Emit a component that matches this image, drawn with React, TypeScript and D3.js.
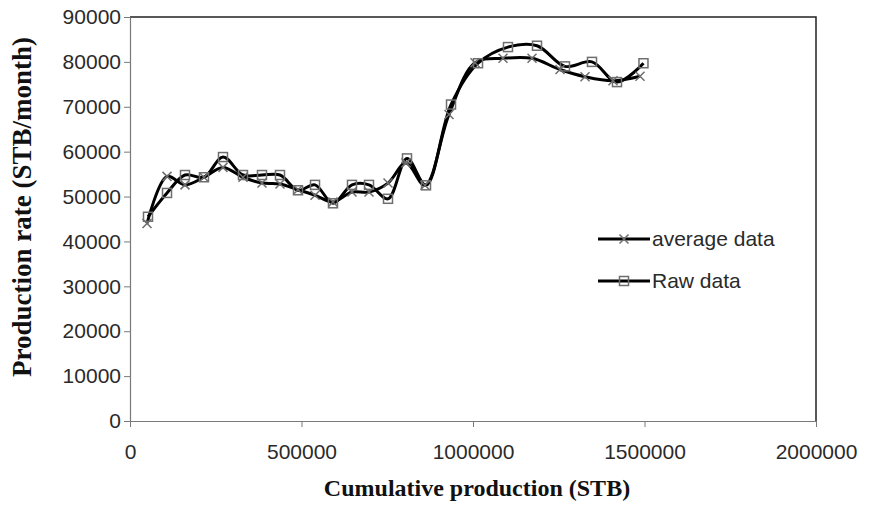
import React, { useRef, useEffect } from 'react';
import * as d3 from 'd3';

// cumulative production (STB) and rate (STB/month)
const rawX = [52500, 107900, 160300, 215700, 271100, 329400, 384800, 437300, 489800, 539400, 591800, 647200, 696800, 752200, 807600, 863000, 935900, 1014600, 1102000, 1186600, 1268200, 1346900, 1419800, 1497000];
const rawY = [45500, 50800, 54800, 54300, 58800, 54800, 54800, 54800, 51400, 52600, 48500, 52600, 52600, 49500, 58500, 52500, 70500, 79700, 83300, 83600, 79000, 80000, 75500, 79700];
const avgX = [49600, 107900, 160300, 215700, 271100, 329400, 384800, 437300, 489800, 539400, 591800, 647200, 696800, 752200, 804700, 860100, 930100, 1005900, 1087500, 1172100, 1253700, 1326600, 1408200, 1486900];
const avgY = [44000, 54500, 52600, 54300, 56500, 54300, 53000, 52800, 51500, 50300, 48800, 51000, 51000, 53000, 57500, 52500, 68300, 79800, 80800, 80800, 78300, 76700, 75800, 76800];
const xTicks = [0, 500000, 1000000, 1500000, 2000000];
const yTicks = [0, 10000, 20000, 30000, 40000, 50000, 60000, 70000, 80000, 90000];

const W = 870;
const H = 506;
const margin = { left: 130, right: 54, top: 17, bottom: 85 };

const App: React.FC = () => {
  const svgRef = useRef<SVGSVGElement>(null);

  useEffect(() => {
    if (!svgRef.current) return;
    const svg = d3.select(svgRef.current);
    svg.selectAll('*').remove();

    const x = d3.scaleLinear().domain([0, 2000000]).range([margin.left, W - margin.right]);
    const y = d3.scaleLinear().domain([0, 90000]).range([H - margin.bottom, margin.top]);
    const tickFont = '"Liberation Sans", Arial, sans-serif';
    const axisColor = '#7a7a7a';

    // plot box top/right
    svg.append('path')
      .attr('d', `M${x(0)},${y(90000)}H${x(2000000)}V${y(0)}`)
      .attr('fill', 'none').attr('stroke', '#222').attr('stroke-width', 1.5);

    const xAxis = svg.append('g')
      .attr('transform', `translate(0,${y(0)})`)
      .call(d3.axisBottom(x).tickValues(xTicks).tickFormat(d3.format('d')).tickSize(6).tickSizeOuter(0));
    xAxis.select('.domain').attr('stroke', axisColor).attr('stroke-width', 1.2);
    xAxis.selectAll('.tick line').attr('stroke', axisColor);
    xAxis.selectAll('.tick text')
      .attr('font-family', tickFont).attr('font-size', 21).attr('fill', '#2a2a2a').attr('dy', '1.4em');

    const yAxis = svg.append('g')
      .attr('transform', `translate(${x(0)},0)`)
      .call(d3.axisLeft(y).tickValues(yTicks).tickFormat(d3.format('d')).tickSize(6).tickSizeOuter(0));
    yAxis.select('.domain').attr('stroke', axisColor).attr('stroke-width', 1.2);
    yAxis.selectAll('.tick line').attr('stroke', axisColor);
    yAxis.selectAll('.tick text')
      .attr('font-family', tickFont).attr('font-size', 21).attr('fill', '#2a2a2a').attr('x', -9);

    const line = d3.line<[number, number]>()
      .x(d => x(d[0]))
      .y(d => y(d[1]))
      .curve(d3.curveCatmullRom);

    const avgPts = avgX.map((v, i) => [v, avgY[i]] as [number, number]);
    const rawPts = rawX.map((v, i) => [v, rawY[i]] as [number, number]);

    const markColor = '#6e6e6e';
    const cross = (g: d3.Selection<SVGGElement, unknown, null, undefined>, cx: number, cy: number) => {
      g.append('path')
        .attr('d', `M${cx - 4.5},${cy - 4.5}L${cx + 4.5},${cy + 4.5}M${cx - 4.5},${cy + 4.5}L${cx + 4.5},${cy - 4.5}`)
        .attr('stroke', markColor).attr('stroke-width', 1.5).attr('fill', 'none');
    };
    const square = (g: d3.Selection<SVGGElement, unknown, null, undefined>, cx: number, cy: number) => {
      g.append('rect')
        .attr('x', cx - 4.5).attr('y', cy - 4.5).attr('width', 9).attr('height', 9)
        .attr('stroke', markColor).attr('stroke-width', 1.5).attr('fill', 'none');
    };

    svg.append('path').attr('d', line(avgPts)!).attr('fill', 'none').attr('stroke', '#000').attr('stroke-width', 3);
    svg.append('path').attr('d', line(rawPts)!).attr('fill', 'none').attr('stroke', '#000').attr('stroke-width', 3);

    const marks = svg.append('g');
    avgPts.forEach(d => cross(marks, x(d[0]), y(d[1])));
    rawPts.forEach(d => square(marks, x(d[0]), y(d[1])));

    // legend
    const legend = svg.append('g');
    const items = [
      { label: 'average data', draw: cross, cy: 239 },
      { label: 'Raw data', draw: square, cy: 281 },
    ];
    items.forEach(it => {
      legend.append('line').attr('x1', 598).attr('x2', 650).attr('y1', it.cy).attr('y2', it.cy)
        .attr('stroke', '#000').attr('stroke-width', 3);
      it.draw(legend, 624, it.cy);
      legend.append('text').attr('x', 652).attr('y', it.cy).attr('dy', '0.35em')
        .attr('font-family', tickFont).attr('font-size', 21).attr('fill', '#2a2a2a').text(it.label);
    });

    // axis titles
    svg.append('text')
      .attr('x', (x(0) + x(2000000)) / 2 + 4).attr('y', 496)
      .attr('text-anchor', 'middle')
      .attr('font-family', '"Liberation Serif", "Times New Roman", serif')
      .attr('font-weight', 'bold').attr('font-size', 24).attr('fill', '#111')
      .text('Cumulative production (STB)');
    svg.append('text')
      .attr('transform', `translate(31,${207}) rotate(-90)`)
      .attr('text-anchor', 'middle')
      .attr('font-family', '"Liberation Serif", "Times New Roman", serif')
      .attr('font-weight', 'bold').attr('font-size', 27).attr('fill', '#111')
      .text('Production rate (STB/month)');
  }, []);

  return (
    <svg ref={svgRef} width={W} height={H}
      style={{ position: 'absolute', left: 0, top: 0, background: '#fff' }} />
  );
};

export default App;
